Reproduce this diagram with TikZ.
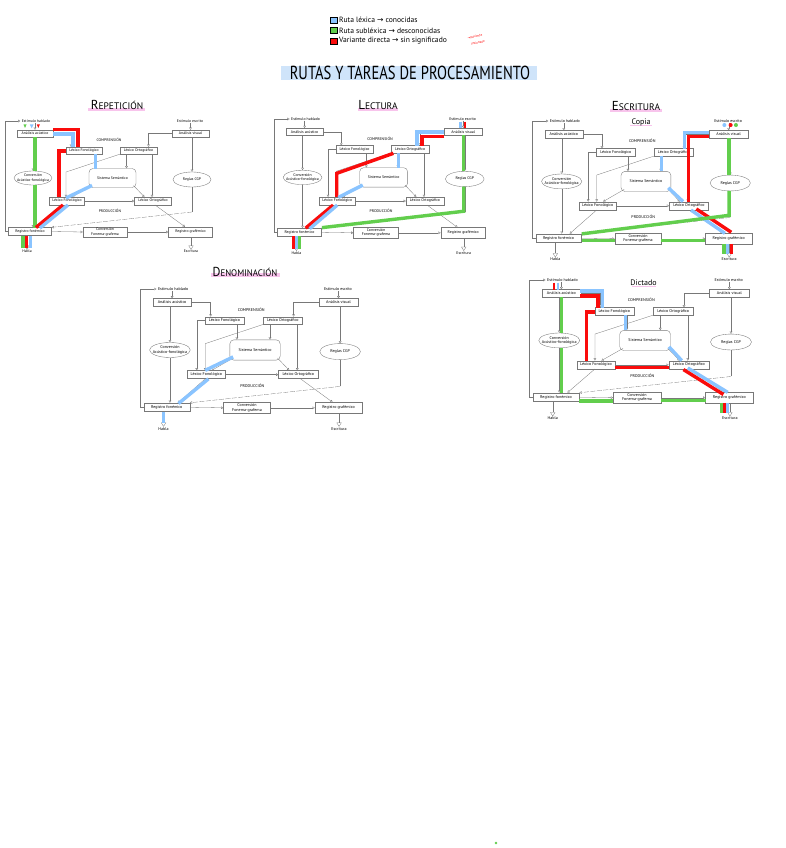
\documentclass[tikz,border=0pt]{standalone}
\usepackage{fontspec}
\setmainfont{PT Sans}
\newfontfamily\arrowfont{DejaVu Sans}
\usetikzlibrary{arrows.meta,shapes.geometric}
\definecolor{blueR}{RGB}{138,196,255}
\definecolor{greenR}{RGB}{98,206,77}
\definecolor{redR}{RGB}{250,12,12}
\definecolor{bandB}{RGB}{207,228,250}
\definecolor{pinkR}{RGB}{248,196,236}
\definecolor{lineG}{RGB}{120,120,120}
\newcommand\diagfont{\fontsize{3.8}{4.3}\selectfont}
\tikzset{
 conn/.style={draw=lineG, line width=0.3pt, -{Triangle[open,length=2.2pt,width=2.6pt]}},
 plainln/.style={draw=lineG, line width=0.3pt},
 bigtip/.style={draw=lineG, line width=0.3pt, -{Triangle[open,length=4pt,width=5pt]}},
 dbox/.style={draw=lineG, line width=0.35pt, fill=white, inner sep=0.5pt, font=\diagfont, minimum height=7},
 dell/.style={ellipse, draw=lineG, line width=0.35pt, fill=white, inner sep=0pt},
 dlbl/.style={inner sep=0.3pt, font=\diagfont, align=center},
 ov/.style={line width=3.4pt},
 sectitle/.style={anchor=base, inner sep=0pt},
 legtext/.style={anchor=west, inner sep=0, font=\fontsize{7.6}{8.5}\selectfont},
 legsq/.style={draw=black, line width=0.5pt, minimum width=6.5, minimum height=6, inner sep=0},
 notetext/.style={red, rotate=12, inner sep=0, font=\fontsize{3.3}{3.6}\selectfont},
}
\newcommand\diagbase{%
 \node[dlbl] (estH) at (31,0) {Estímulo hablado};
 \node[dbox, minimum width=36] (aAc) at (30,12.5) {Análisis acústico};
 \node[dlbl] (estE) at (185,0) {Estímulo escrito};
 \node[dbox, minimum width=37] (aVis) at (185.5,12.5) {Análisis visual};
 \node[dlbl] (comp) at (104,19) {COMPRENSIÓN};
 \node[dbox, minimum width=36] (lexFonA) at (79,29.5) {Léxico Fonológico};
 \node[dbox, minimum width=37] (lexOrtA) at (133.5,29.5) {Léxico Ortográfico};
 \node[dbox, rounded corners=4pt, minimum width=47, minimum height=19] (sem) at (107.5,57) {Sistema Semántico};
 \node[dell, minimum width=38, minimum height=14] (convAF) at (28,57) {};
 \node[dlbl] (convAFt) at (convAF) {Conversión\\Acústico-fonológica};
 \node[dell, minimum width=38, minimum height=15] (cgp) at (187,58.5) {};
 \node[dlbl] (cgpt) at (cgp) {Reglas CGP};
 \node[dbox, minimum width=35, minimum height=7.5] (lexFonB) at (62,80) {Léxico Fonológico};
 \node[dbox, minimum width=37, minimum height=7.5] (lexOrtB) at (148,80) {Léxico Ortográfico};
 \node[dlbl] (prod) at (105,90) {PRODUCCIÓN};
 \node[dbox, minimum width=43, minimum height=8] (regFon) at (25,110.5) {Registro fonémico};
 \node[dbox, minimum width=44, minimum height=10, align=center] (convFG) at (100,111) {Conversión\\Fonema-grafema};
 \node[dbox, minimum width=44, minimum height=10] (regGraf) at (185.5,111) {Registro grafémico};
 \node[dlbl] (habla) at (22,130.5) {Habla};
 \node[dlbl] (escr) at (186,130.5) {Escritura};
 \coordinate (fb) at (0,0);
 \coordinate (k1) at (66,0);
 \coordinate (k2) at (143.5,0);
 \coordinate (k3) at (90.5,0);
 \coordinate (k4) at (53,0);
 \coordinate (k5) at (61,51);
 \coordinate (k6) at (87,64.5);
 \coordinate (k7) at (67,0);
 \coordinate (k8) at (128.5,64.5);
 \coordinate (k9) at (139.5,0);
 \coordinate (k10) at (121.5,0);
 \coordinate (k11) at (147,0);
 \coordinate (k12) at (187,91);
 \coordinate (k13) at (61,0);
 \coordinate (k14) at (35.5,0);
 \coordinate (k15) at (150,0);
 \coordinate (k16) at (180,0);
 \coordinate (k17) at (22,0);
 \draw[conn, shorten >=1pt] (regFon.west) -- (fb |- regFon.west) -- (fb) -- (estH.west);
 \draw[conn] (aAc.north |- estH.south) -- (aAc.north);
 \draw[conn] (aVis.north |- estE.south) -- (aVis.north);
 \draw[conn] (aAc.east) -| (k1 |- lexFonA.north);
 \draw[conn] (convAF.north |- aAc.south) -- (convAF.north);
 \draw[conn] (convAF.south) -- (convAF.south |- regFon.north);
 \draw[conn] (aVis.west) -| (k2 |- lexOrtA.north);
 \draw[conn] (cgp.north |- aVis.south) -- (cgp.north);
 \draw[plainln] (cgp.south) -- (k12);
 \draw[conn, dash pattern=on 5pt off 1.5pt] (k12) -- (regFon.north east);
 \draw[conn] (k3 |- lexFonA.south) -- (k3 |- sem.north);
 \draw[conn] (lexFonA.west) -| (k4 |- lexFonB.north);
 \draw[conn] (lexOrtA.south west) -- (k5) -- (k5 |- lexFonB.north);
 \draw[conn] (k6) -- (k7 |- lexFonB.north);
 \draw[conn] (k8) -- (k9 |- lexOrtB.north);
 \draw[conn] (k10 |- lexOrtA.south) -- (k10 |- sem.north);
 \draw[conn] (k11 |- lexOrtA.south) -- (k11 |- lexOrtB.north);
 \draw[conn] (lexFonB.east) -- (lexOrtB.west);
 \draw[conn] (k13 |- lexFonB.south) -- (k14 |- regFon.north);
 \draw[conn] (k15 |- lexOrtB.south) -- (k16 |- regGraf.north);
 \draw[conn] (regFon.east) -- (convFG.west);
 \draw[conn] (convFG.east) -- (regGraf.west);
 \draw[bigtip] (k17 |- regFon.south) -- (habla.north);
 \draw[bigtip] (escr.north |- regGraf.south) -- (escr.north);
}
\begin{document}
\begin{tikzpicture}[x=1pt,y=-1pt]
\useasboundingbox (0,0) rectangle (785,848);
\fill[white] (0,0) rectangle (785,848);

% legend
\node[legsq, fill=blueR] (sqB) at (333.5,20) {};
\node[legsq, fill=greenR] (sqG) at (333.5,30.5) {};
\node[legsq, fill=redR] (sqR) at (333.5,41) {};
\node[legtext] (legB) at (339,20) {Ruta léxica {\arrowfont →} conocidas};
\node[legtext] (legG) at (339,30.5) {Ruta subléxica {\arrowfont →} desconocidas};
\node[legtext] (legR) at (339,41) {Variante directa {\arrowfont →} sin significado};
\node[notetext] (noteA) at (475,36.8) {{\arrowfont →}paciente};
\node[notetext] (noteB) at (478,42.6) {lesionado};

% main title
\fill[bandB] (281,66) rectangle (537,80);
\node[inner sep=0, font=\fontsize{18}{18}\selectfont] (mainT) at (410,73) {\scalebox{0.81}[1.05]{RUTAS Y TAREAS DE PROCESAMIENTO}};

% section titles
\fill[pinkR] (88,108) rectangle (145,110.7);
\node[sectitle] (tRep) at (117,109.3) {{\fontsize{13}{13}\selectfont R}{\fontsize{9.5}{9.5}\selectfont EPETICIÓN}};
\fill[pinkR] (358,108.5) rectangle (398,111);
\node[sectitle] (tLec) at (378,109.5) {{\fontsize{13}{13}\selectfont L}{\fontsize{9.5}{9.5}\selectfont ECTURA}};
\fill[pinkR] (610,109.3) rectangle (662,112);
\node[sectitle] (tEsc) at (636,110.3) {{\fontsize{13}{13}\selectfont E}{\fontsize{9.5}{9.5}\selectfont SCRITURA}};
\draw[pinkR, line width=0.9pt] (630,125.8) -- (652,125.8);
\node[sectitle, font=\fontsize{8}{8}\selectfont] (tCop) at (641,124.5) {Copia};
\fill[pinkR] (211,273) rectangle (280,277.3);
\node[sectitle] (tDen) at (245,276) {\scalebox{0.93}[1]{{\fontsize{13}{13}\selectfont D}{\fontsize{9.5}{9.5}\selectfont ENOMINACIÓN}}};
\draw[pinkR, line width=0.9pt] (632,286.6) -- (656,286.6);
\node[sectitle, font=\fontsize{8}{8}\selectfont] (tDic) at (643.5,285) {Dictado};

% Repeticion
\begin{scope}[shift={(5,121)}, name prefix=rep-, transform shape]
\diagbase
\fill[greenR] (18.5,3.5) -- (21.5,3.5) -- (20,7) -- cycle;
\fill[blueR] (24.8,3.5) -- (28.6,3.5) -- (26.7,7.3) -- cycle;
\fill[redR] (31.8,3.5) -- (34.8,3.5) -- (33.3,7) -- cycle;
\draw[ov,greenR] (30,16) -- (30,50);
\draw[ov,greenR] (30,64) -- (30,106.5);
\draw[ov,blueR] (48,13) -- (68,13) -- (68,26);
\draw[ov,redR] (48,8.7) -- (73,8.7) -- (73,26);
\draw[ov,blueR] (90.5,33) -- (90.5,47.5);
\draw[ov,blueR] (87,64.5) -- (61,77);
\draw[ov,redR] (61,30) -- (54,30) -- (54,76);
\draw[ov,redR] (58,84) -- (31,106.5);
\draw[ov,blueR] (63,84) -- (35,107);
\draw[ov,greenR] (18,114.5) -- (18,127);
\draw[ov,redR] (21.5,114.5) -- (21.5,127);
\draw[ov,blueR] (25.5,114.5) -- (25.5,127);
\end{scope}

% Lectura
\begin{scope}[shift={(274,119)}, xscale=1.02, yscale=1.025, name prefix=lec-, transform shape]
\diagbase
\draw[ov,blueR,line width=2.6pt] (183,2.5) -- (183,9);
\draw[ov,redR,line width=2.2pt] (187,2.5) -- (187,9);
\draw[ov,blueR] (167,12.5) -- (140,12.5) -- (140,26);
\draw[ov,redR] (167,17) -- (145,17) -- (145,26);
\draw[ov,redR] (117,33.5) -- (61.5,53) -- (61.5,76);
\draw[ov,blueR] (122,33) -- (122,47.5);
\draw[ov,blueR] (87,64.5) -- (63,76.5);
\draw[ov,redR] (58,84) -- (31,106.5);
\draw[ov,blueR] (62,84) -- (35,107);
\draw[ov,greenR] (186,16) -- (186,51);
\draw[ov,greenR] (186,66) -- (186,90) -- (47,106);
\draw[ov,redR] (19,114.5) -- (19,127);
\draw[ov,blueR] (22,114.5) -- (22,127);
\draw[ov,greenR] (25,114.5) -- (25,127);
\end{scope}

% Escritura - Copia
\begin{scope}[shift={(532,121)}, scale=1.06, name prefix=esc-, transform shape]
\diagbase
\fill[blueR] (181.5,3.8) circle (1.9pt);
\fill[redR] (187.4,3.8) circle (1.9pt);
\fill[greenR] (192.4,3.8) circle (1.9pt);
\draw[ov,blueR] (167,11) -- (143.7,11) -- (143.7,26);
\draw[ov,redR] (167,14.8) -- (147.5,14.8) -- (147.5,76);
\draw[ov,blueR] (122.3,33) -- (122.3,47.5);
\draw[ov,blueR] (128.6,63) -- (142.5,76);
\draw[ov,blueR] (150,84) -- (182,106);
\draw[ov,redR] (155,83) -- (188,105);
\draw[ov,greenR] (186,16) -- (186,51);
\draw[ov,greenR] (186,66) -- (186,89) -- (47,106.5);
\draw[ov,greenR] (47,113) -- (78,113);
\draw[ov,greenR] (122,112.5) -- (163.5,112.5);
\draw[ov,greenR] (181,116) -- (181,125);
\draw[ov,blueR] (184.3,116) -- (184.3,125);
\draw[ov,redR] (188,116) -- (188,125);
\end{scope}

% Denominacion
\begin{scope}[shift={(140,289)}, scale=1.07, name prefix=den-, transform shape]
\diagbase
\draw[ov,blueR] (87,63.5) -- (61,76);
\draw[ov,blueR] (64,84) -- (36,107);
\draw[ov,blueR] (22,114.5) -- (22,125);
\end{scope}

% Dictado
\begin{scope}[shift={(529,280)}, xscale=1.08, yscale=1.06, name prefix=dic-, transform shape]
\diagbase
\draw[ov,redR,line width=2.6pt] (23,2.5) -- (23,9);
\draw[ov,blueR,line width=2.6pt] (27,2.5) -- (27,9);
\draw[ov,blueR] (47.5,10.4) -- (68,10.4) -- (68,26);
\draw[ov,redR] (47.5,15) -- (64,15) -- (64,26);
\draw[ov,blueR] (89.5,33) -- (89.5,47.5);
\draw[ov,redR] (61,30) -- (53,30) -- (53,76);
\draw[ov,redR] (79.5,82.5) -- (129.5,82.5);
\draw[ov,blueR] (129.6,63) -- (141.4,76);
\draw[ov,blueR] (147,83) -- (184,106);
\draw[ov,redR] (143,84.5) -- (180,108);
\draw[ov,greenR] (30,16) -- (30,50);
\draw[ov,greenR] (30,64) -- (30,106.5);
\draw[ov,greenR] (46.5,114) -- (78,114);
\draw[ov,greenR] (122,113.5) -- (163.5,113.5);
\draw[ov,greenR] (178,116) -- (178,125);
\draw[ov,redR] (181,116) -- (181,125);
\draw[ov,blueR] (183.6,116) -- (183.6,125);
\end{scope}

\fill[greenR] (496,843) circle (1.4pt);
\end{tikzpicture}
\end{document}
